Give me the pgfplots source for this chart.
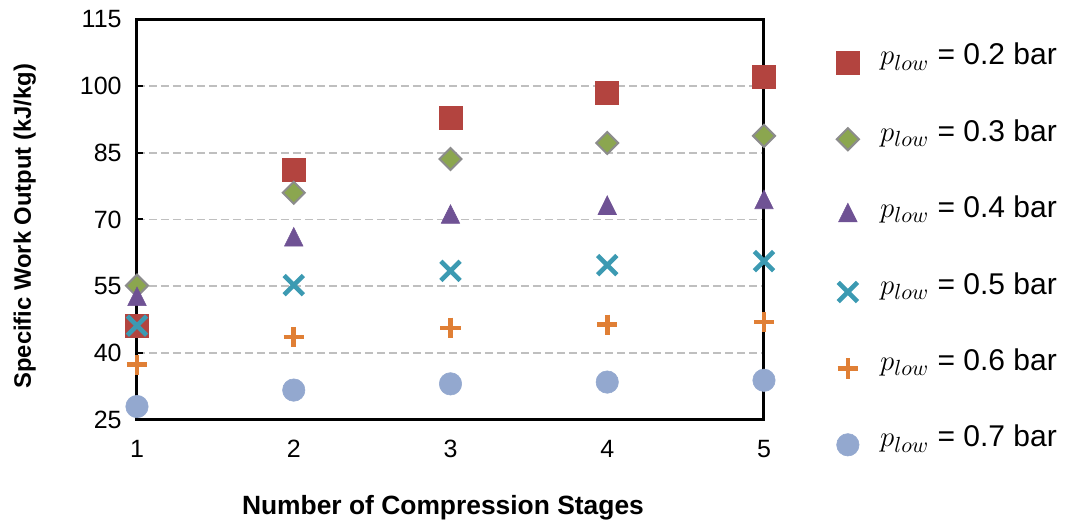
\documentclass[border=0pt]{standalone}
\usepackage{pgfplots}
\pgfplotsset{compat=1.18}
\usepackage{fontspec}
\setmainfont{Liberation Sans}

\definecolor{cRed}{HTML}{B3443F}
\definecolor{cGreen}{HTML}{8BA64F}
\definecolor{cEdge}{HTML}{8C8C8C}
\definecolor{cPurple}{HTML}{6F5294}
\definecolor{cTeal}{HTML}{3C9AB2}
\definecolor{cOrange}{HTML}{E07F35}
\definecolor{cBlue}{HTML}{93A8CF}
\definecolor{cGrid}{HTML}{BFBFBF}

\begin{document}
\begin{tikzpicture}
\begin{axis}[
  scale only axis,
  width=313.5pt, height=200pt,
  xmin=1, xmax=5, ymin=25, ymax=115,
  xtick={1,2,3,4,5},
  ytick={25,40,55,70,85,100,115},
  axis line style={line width=1.5pt},
  xtick style={draw=none},
  ytick style={line width=1pt, black},
  tick align=inside, ytick pos=left, xtick pos=bottom,
  major tick length=3pt,
  ymajorgrids,
  major grid style={cGrid, line width=0.8pt, dash pattern=on 4pt off 2pt},
  clip=false,
  /pgf/number format/assume math mode=true,
  tick label style={font=\fontsize{12.5}{15}\selectfont},
  yticklabel style={inner xsep=0pt, xshift=-7.5pt},
  xticklabel style={inner ysep=0pt, yshift=-10pt},
  xlabel={\textbf{Number of Compression Stages}},
  ylabel={\textbf{Specific Work Output (kJ/kg)}},
  xlabel style={font=\fontsize{13.2}{15}\selectfont, at={(axis description cs:0.488,-0.22)}, anchor=center},
  ylabel style={font=\fontsize{11.9}{15}\selectfont, at={(axis description cs:-0.179,0.483)}, anchor=center},
  every axis plot/.append style={
    only marks,
    legend image code/.code={
      \path (0pt,0pt) (24.5pt,0pt);
      \draw[##1] plot coordinates {(0.3cm,0cm)};
    },
  },
  legend style={
    at={(rel axis cs:1,1)}, anchor=north west,
    xshift=30pt, yshift=-11.5pt,
    draw=none, fill=none,
    row sep=22.2pt,
    font=\fontsize{15}{17}\selectfont,
    nodes={inner sep=0pt, text height=9pt, text depth=7pt},
  },
  legend cell align=left,
]
\coordinate (O) at (rel axis cs:0,0);

% p_low = 0.2 bar
\addplot[mark=square*, mark size=5.75pt, mark options={fill=cRed, draw=cRed, line width=0.3pt}]
  coordinates {(1,46.1) (2,81.1) (3,92.8) (4,98.4) (5,102.0)};
\addlegendentry{$p_{low}$ = 0.2 bar}

% p_low = 0.3 bar
\addplot[mark=square*, mark size=3.9pt, mark options={rotate=45, fill=cGreen, draw=cEdge, line width=1pt}]
  coordinates {(1,55.1) (2,76.0) (3,83.6) (4,87.2) (5,88.8)};
\addlegendentry{$p_{low}$ = 0.3 bar}

% p_low = 0.4 bar
\addplot[mark=triangle*, mark size=6.2pt, mark options={xscale=0.86, fill=cPurple, draw=cPurple, line width=0.3pt}]
  coordinates {(1,52.0) (2,65.4) (3,70.5) (4,72.5) (5,73.8)};
\addlegendentry{$p_{low}$ = 0.4 bar}

% p_low = 0.5 bar
\addplot[mark=x, mark size=6.8pt, mark options={draw=cTeal, line width=2.3pt}]
  coordinates {(1,46.1) (2,55.2) (3,58.4) (4,59.7) (5,60.6)};
\addlegendentry{$p_{low}$ = 0.5 bar}

% p_low = 0.6 bar
\addplot[mark=+, mark size=5.1pt, mark options={draw=cOrange, line width=2.3pt}]
  coordinates {(1,37.3) (2,43.5) (3,45.6) (4,46.3) (5,46.9)};
\addlegendentry{$p_{low}$ = 0.6 bar}

% p_low = 0.7 bar
\addplot[mark=*, mark size=5.6pt, mark options={fill=cBlue, draw=cBlue, line width=0.3pt}]
  coordinates {(1,27.9) (2,31.6) (3,33.0) (4,33.4) (5,33.8)};
\addlegendentry{$p_{low}$ = 0.7 bar}
\end{axis}
\pgfresetboundingbox
\path ([shift={(-68.5pt,-50.8pt)}]O) rectangle ([shift={(467.5pt,209.7pt)}]O);
\end{tikzpicture}
\end{document}
